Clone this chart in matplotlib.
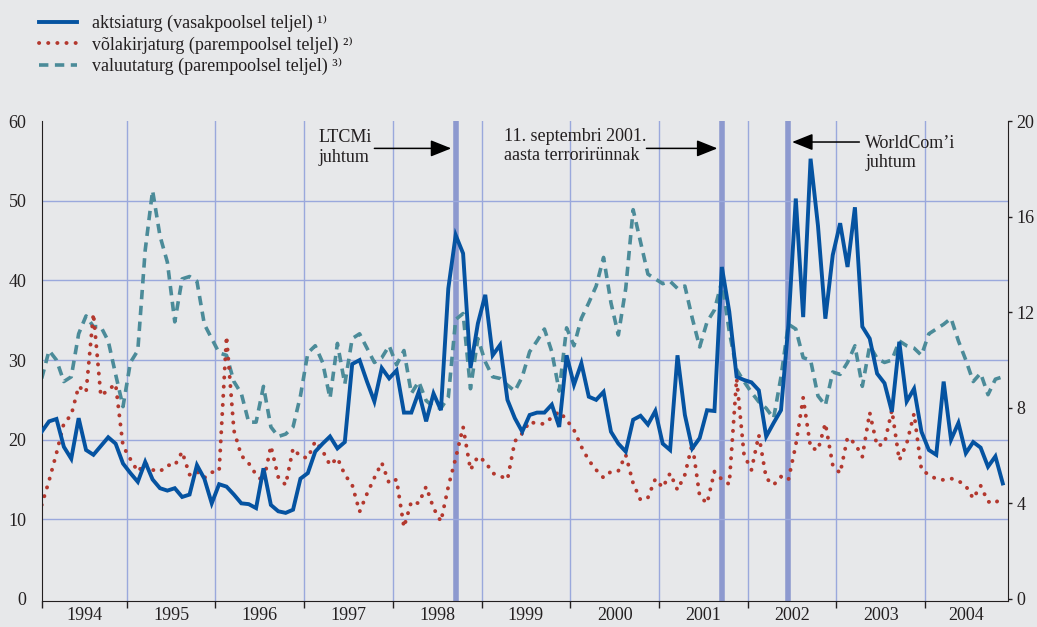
import numpy as np
import pandas as pd
import matplotlib.pyplot as plt

plt.rcParams['font.family'] = ['Liberation Serif', 'DejaVu Serif']

# monthly values, Jan 1994 .. Nov 2004
# stock market volatility (left axis)
aktsia = [
    21.0, 22.3, 22.6, 19.1, 17.6, 22.7, 18.7, 18.1, 19.2, 20.3, 19.5, 17.0,
    15.8, 14.7, 17.2, 15.0, 13.9, 13.6, 13.9, 12.8, 13.1, 16.8, 15.1, 12.0,
    14.4, 14.1, 13.1, 12.0, 11.9, 11.4, 16.4, 11.8, 11.0, 10.8, 11.2, 15.1,
    15.8, 18.5, 19.5, 20.4, 18.9, 19.7, 29.5, 30.0, 27.3, 24.8, 29.0, 27.7,
    28.7, 23.4, 23.4, 26.0, 22.3, 25.8, 23.7, 39.0, 45.7, 43.4, 29.0, 34.6,
    38.2, 30.6, 31.9, 25.0, 22.7, 21.0, 23.1, 23.4, 23.4, 24.4, 21.6, 30.6,
    26.9, 29.6, 25.4, 25.0, 26.0, 21.0, 19.5, 18.5, 22.5, 23.0, 21.9, 23.6,
    19.5, 18.7, 30.6, 23.1, 18.9, 20.2, 23.7, 23.6, 41.7, 36.1, 27.9, 27.5,
    27.2, 26.2, 20.4, 22.1, 23.7, 34.4, 50.3, 35.4, 55.3, 46.9, 35.2, 43.2,
    47.2, 41.7, 49.2, 34.2, 32.7, 28.3, 27.1, 23.5, 32.3, 24.8, 26.4, 21.0,
    18.7, 18.1, 27.3, 20.0, 22.1, 18.3, 19.7, 19.0, 16.6, 17.9, 14.5,
]
# bond market volatility (right axis)
volakiri = [
    3.93, 4.95, 6.1, 7.35, 7.7, 8.9, 8.65, 11.95, 8.5, 8.75, 9.0, 6.4,
    5.85, 5.33, 5.68, 5.4, 5.33, 5.6, 5.58, 6.16, 5.2, 5.33, 5.07, 5.3,
    5.35, 11.0, 7.05, 6.0, 5.68, 5.2, 4.9, 6.4, 5.1, 4.77, 6.3, 5.96,
    5.9, 6.6, 6.2, 5.6, 5.9, 5.2, 4.77, 3.65, 4.4, 5.07, 5.7, 4.84,
    5.0, 3.0, 4.07, 4.0, 4.7, 3.8, 3.24, 4.7, 5.9, 7.2, 5.4, 5.96,
    5.75, 5.26, 5.15, 5.0, 6.6, 6.93, 7.42, 7.33, 7.33, 7.6, 7.84, 7.5,
    7.07, 6.37, 5.8, 5.4, 5.07, 5.33, 5.36, 6.03, 4.84, 4.14, 4.24, 5.02,
    4.66, 5.26, 4.56, 5.2, 6.5, 4.3, 4.0, 5.33, 5.0, 4.8, 9.23, 6.03,
    5.4, 6.86, 5.05, 4.77, 5.12, 4.98, 6.44, 8.42, 6.33, 6.23, 7.35, 5.6,
    5.26, 6.76, 6.51, 5.95, 7.8, 6.4, 6.5, 7.9, 5.8, 6.5, 7.76, 5.4,
    5.2, 5.02, 4.98, 5.04, 4.94, 4.73, 4.2, 4.74, 4.07, 4.0, 4.35,
]
# currency market volatility (right axis)
valuuta = [
    9.23, 10.4, 10.0, 9.1, 9.3, 11.1, 11.85, 11.4, 11.4, 10.8, 9.4, 8.05,
    9.9, 10.4, 14.6, 17.1, 15.2, 14.1, 11.6, 13.4, 13.5, 13.3, 11.5, 10.9,
    10.3, 10.2, 9.1, 8.6, 7.4, 7.4, 8.9, 7.2, 6.8, 6.9, 7.2, 8.5,
    10.3, 10.6, 9.9, 8.4, 10.7, 9.0, 10.9, 11.1, 10.5, 9.9, 10.1, 10.6,
    9.8, 10.4, 8.6, 9.1, 8.3, 8.05, 7.98, 8.45, 11.7, 11.95, 8.8, 10.9,
    9.93, 9.3, 9.23, 8.95, 8.7, 9.3, 10.35, 10.8, 11.3, 10.35, 8.7, 11.35,
    10.6, 11.75, 12.4, 13.1, 14.3, 12.4, 11.05, 13.0, 16.3, 14.95, 13.6, 13.4,
    13.2, 13.3, 13.0, 13.1, 11.75, 10.55, 11.6, 12.1, 13.3, 11.2, 9.6, 9.1,
    8.65, 8.25, 7.98, 7.56, 9.3, 11.5, 11.3, 10.1, 10.0, 8.5, 8.1, 9.5,
    9.4, 9.9, 10.6, 8.9, 10.6, 10.07, 9.9, 10.0, 10.8, 10.6, 10.5, 10.2,
    11.1, 11.3, 11.5, 11.75, 10.8, 10.0, 9.1, 9.45, 8.55, 9.2, 9.3,
]

series_labels = [
    'aktsiaturg (vasakpoolsel teljel) ¹⁾',
    'võlakirjaturg (parempoolsel teljel) ²⁾',
    'valuutaturg (parempoolsel teljel) ³⁾',
]
event_months = ['1998-09', '2001-09', '2002-06']

left_ticks = [0, 10, 20, 30, 40, 50, 60]
right_ticks = [0, 4, 8, 12, 16, 20]

BG = '#e7e8ea'
GRID = '#9aa8dc'
BAR = '#8d99cf'
BLUE = '#0553a1'
RED = '#b3382e'
TEAL = '#4b8b99'
TXT = '#231f20'
FS = 13

months = pd.period_range('1994-01', periods=len(aktsia), freq='M')
x = np.arange(len(months))
x_end = x[-1] + 0.7
year_starts = x[months.month == 1]
bounds = np.concatenate([[0], year_starts[1:] - 0.5])
centers = (bounds + np.append(bounds[1:], x_end)) / 2
years = [str(y) for y in months.year[months.month == 1]]
event_x = [months.get_loc(pd.Period(m, freq='M')) for m in event_months]

fig = plt.figure(figsize=(10.37, 6.27), dpi=100, facecolor=BG)
ax = fig.add_axes([0.0402, 0.0415, 0.9318, 0.765])
ax2 = ax.twinx()
ax.set_zorder(ax2.get_zorder() + 1)
ax.patch.set_visible(False)
ax2.patch.set_visible(False)

# grid and event bars on the lower (right-axis) layer
ax2.set_xlim(0, x_end)
ax2.set_ylim(-0.09, 20)
ax2.set_yticks(right_ticks)
ax2.set_yticks(np.array(left_ticks[1:]) * 20 / 60, minor=True)
ax2.grid(axis='y', which='minor', color=GRID, lw=1.0)
for b in bounds[1:]:
    ax2.axvline(b, color=GRID, lw=1.0, zorder=1)
for ex in event_x:
    ax2.axvline(ex, color=BAR, lw=4.0, zorder=1.5)

lv, = ax2.plot(x, valuuta, color=TEAL, lw=2.6, ls=(0, (2.6, 1.8)), zorder=3)
lr, = ax2.plot(x, volakiri, color=RED, lw=2.8, ls=(0, (0.05, 2.3)),
               dash_capstyle='round', zorder=3)
la, = ax.plot(x, aktsia, color=BLUE, lw=2.8, zorder=4, solid_joinstyle='miter')

ax.set_xlim(0, x_end)
ax.set_ylim(-0.27, 60)
ax.set_yticks(left_ticks)
ax.set_xticks(bounds)
ax.set_xticks(centers, minor=True)
ax.set_xticklabels([])
ax.set_xticklabels(years, minor=True)
ax.tick_params(axis='x', which='major', direction='out', length=5, width=1, color=TXT)
ax.tick_params(axis='x', which='minor', length=0, pad=4, labelsize=FS, labelcolor=TXT)
ax.tick_params(axis='y', length=0, pad=11, labelsize=FS, labelcolor=TXT)
ax2.tick_params(axis='y', which='major', direction='out', length=3, width=1,
                pad=3, labelsize=FS, labelcolor=TXT, color=TXT)
ax2.tick_params(axis='y', which='minor', length=0)

for s in ['top', 'right']:
    ax.spines[s].set_visible(False)
for s in ['top', 'left', 'bottom']:
    ax2.spines[s].set_visible(False)
ax.spines['left'].set_color(TXT)
ax.spines['bottom'].set_color(TXT)
ax2.spines['right'].set_color(TXT)

# event annotations
arrow = dict(arrowstyle='-|>,head_length=0.75,head_width=0.3', color='black', lw=1.1,
             mutation_scale=17, shrinkA=0, shrinkB=0)
ax.text(37.5, 56.7, 'LTCMi\njuhtum', fontsize=FS, color=TXT, va='center', ha='left')
ax.annotate('', xy=(event_x[0] - 0.6, 56.6), xytext=(45.0, 56.6), arrowprops=arrow)
ax.text(62.5, 56.9, '11. septembri 2001.\naasta terrorirünnak', fontsize=FS,
        color=TXT, va='center', ha='left')
ax.annotate('', xy=(event_x[1] - 0.6, 56.6), xytext=(81.8, 56.6), arrowprops=arrow)
ax.text(111.4, 56.0, 'WorldCom’i\njuhtum', fontsize=FS, color=TXT, va='center', ha='left')
ax.annotate('', xy=(event_x[2] + 0.5, 57.4), xytext=(110.6, 57.4), arrowprops=arrow)

fig.legend([la, lr, lv], series_labels, loc='upper left',
           bbox_to_anchor=(0.0379, 0.976), frameon=False, fontsize=FS,
           handlelength=2.1, handletextpad=0.8, labelspacing=0.22,
           borderpad=0, borderaxespad=0, labelcolor=TXT)

fig.savefig('out.png', dpi=100, facecolor=BG)
